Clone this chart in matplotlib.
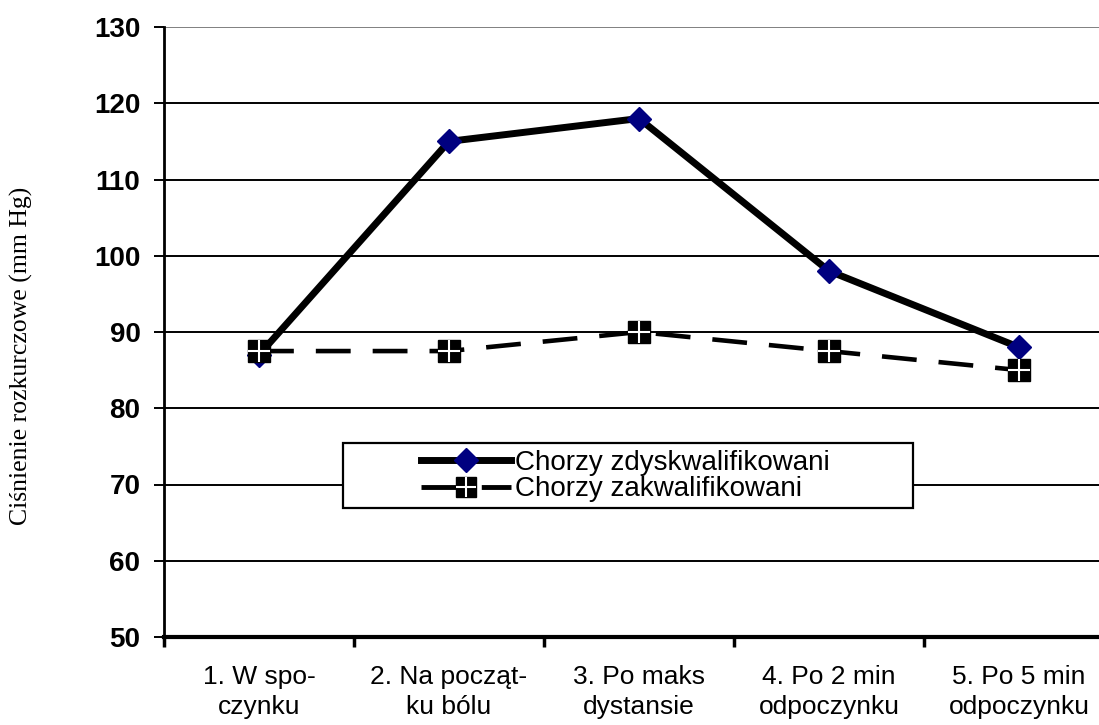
import matplotlib
matplotlib.use("Agg")
import matplotlib.pyplot as plt
from matplotlib.lines import Line2D
from matplotlib.patches import Rectangle

categories = ["1. W spo-\nczynku", "2. Na począt-\nku bólu", "3. Po maks\ndystansie",
              "4. Po 2 min\nodpoczynku", "5. Po 5 min\nodpoczynku"]
series_disq = [87, 115, 118, 98, 88]
series_qual = [87.5, 87.5, 90, 87.5, 85]
label_disq = "Chorzy zdyskwalifikowani"
label_qual = "Chorzy zakwalifikowani"
ylabel = "Ciśnienie rozkurczowe (mm Hg)"
yticks = [50, 60, 70, 80, 90, 100, 110, 120, 130]

fig = plt.figure(figsize=(10.99, 7.25), dpi=100)
ax = fig.add_axes([164/1099, 88/725, (1099-164)/1099, (637-27)/725])

x = list(range(len(categories)))
DASH = (7.6, 4.8)
ax.plot(x, series_disq, color="black", lw=5, zorder=3)
ax.plot(x, series_disq, ls="none", marker="D", ms=12, mfc="#000080", mec="#000080", zorder=4)
ax.plot(x, series_qual, color="black", lw=3.3, dashes=DASH, zorder=3)
ax.plot(x, series_qual, ls="none", marker="s", ms=16, mfc="black", mec="black", zorder=4)
ax.plot(x, series_qual, ls="none", marker="+", ms=16, mew=1.5, color="white", zorder=5)

ax.set_ylim(50, 130)
ax.set_xlim(-0.5, -0.5 + (1099-164)/190)
ax.set_yticks(yticks)
ax.set_yticklabels([str(v) for v in yticks], fontfamily="Liberation Sans",
                   fontweight="bold", fontsize=20)
for v in yticks[1:]:
    ax.axhline(v, color="black" if v != 130 else "#808080", lw=1.4, zorder=1)

ax.set_xticks([i - 0.5 for i in x])
ax.set_xticklabels([])
ax.set_xticks(x, minor=True)
ax.set_xticklabels(categories, minor=True, fontfamily="Liberation Sans",
                   fontsize=19, linespacing=1.33)
ax.tick_params(axis="x", which="minor", length=0, pad=20)
ax.tick_params(axis="x", which="major", length=7, width=2.5, direction="out")
ax.tick_params(axis="y", length=7, width=1.4, direction="out", pad=10)

for s in ["top", "right"]:
    ax.spines[s].set_visible(False)
ax.spines["left"].set_linewidth(2)
ax.spines["bottom"].set_linewidth(3)

fig.text(21/1099, 1 - 356/725, ylabel, rotation=90, ha="center", va="center",
         fontfamily="Liberation Serif", fontsize=18.5)

# legend box + entries
ax.add_patch(Rectangle((343/1099, 1 - 508/725), (913-343)/1099, (508-443)/725,
                       transform=fig.transFigure, facecolor="white", edgecolor="black",
                       lw=1.6, zorder=6, clip_on=False))
h1 = Line2D([], [], color="black", lw=5, marker="D", ms=12, mfc="#000080", mec="#000080")
h2 = Line2D([], [], color="black", lw=3.5, dashes=DASH, marker="s", ms=15, mfc="black", mec="black")
h2p = Line2D([], [], ls="none", marker="+", ms=15, mew=1.5, color="white")
leg = ax.legend([h1, (h2, h2p)], [label_disq, label_qual], loc="center left",
                bbox_to_anchor=(421/1099, 1 - 476/725), bbox_transform=fig.transFigure,
                prop={"family": "Liberation Sans", "size": 20}, frameon=False,
                handlelength=3.25, handletextpad=0.15, borderpad=0,
                labelspacing=0.02, borderaxespad=0)
leg.set_zorder(7)

fig.savefig("out.png", dpi=100)
